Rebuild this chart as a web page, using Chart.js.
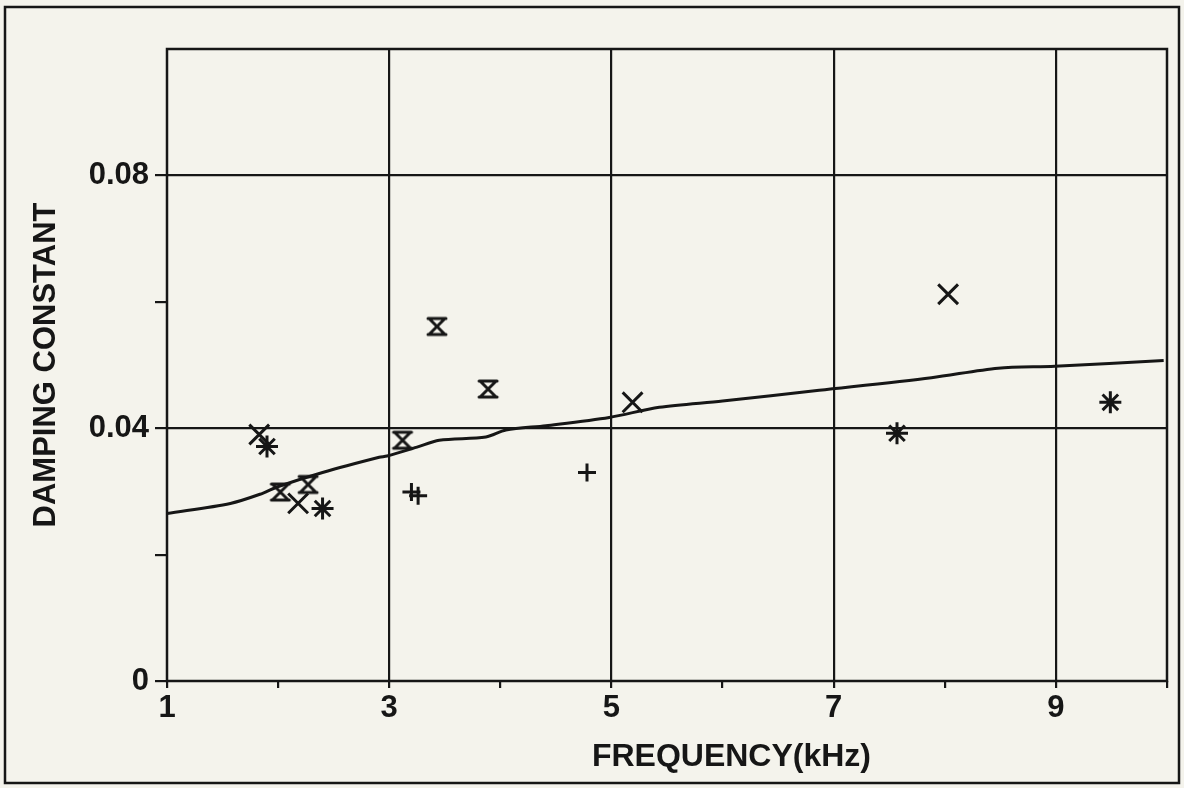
<!DOCTYPE html>
<html>
<head>
<meta charset="utf-8">
<script src="https://cdn.jsdelivr.net/npm/chart.js@4"></script>
<style>
  body { margin: 0; background: #f4f3ec; }
  canvas { display: block; }
</style>
</head>
<body>
<canvas id="damping" width="1184" height="788"></canvas>
<script>
// values
const xTicks = [1, 3, 5, 7, 9];
const yTicks = [0, 0.04, 0.08];
const xTitle = "FREQUENCY(kHz)";
const yTitle = "DAMPING CONSTANT";

const fitX = [1, 1.57, 1.86, 1.99, 2.4, 2.91, 2.98, 3.25, 3.45, 3.87, 4.05, 4.41, 4.98, 5.43, 6, 6.87, 7.88, 8.48, 8.99, 9.97];
const fitY = [0.0265, 0.0281, 0.0297, 0.0307, 0.033, 0.0354, 0.0356, 0.037, 0.0381, 0.0386, 0.0397, 0.0404, 0.0417, 0.0433, 0.0443, 0.046, 0.048, 0.0495, 0.0498, 0.0507];

const crossX = [1.83, 2.18, 5.19, 8.03];
const crossY = [0.039, 0.0281, 0.0441, 0.0612];

const starX = [1.9, 2.4, 7.57, 9.49];
const starY = [0.0371, 0.0273, 0.0392, 0.0441];

const glassX = [2.02, 2.27, 3.12, 3.43, 3.89];
const glassY = [0.0299, 0.0311, 0.0381, 0.0561, 0.0462];

const plusX = [3.2, 3.26, 4.78];
const plusY = [0.0299, 0.0293, 0.033];

const ink = "#161616";
const bg = "#f4f3ec";
const fontFamily = "'Liberation Sans', Arial, sans-serif";

function pts(xs, ys) {
  return xs.map((x, i) => ({ x: x, y: ys[i] }));
}

// hourglass marker: two bars joined by crossing diagonals
function hourglass() {
  const c = document.createElement("canvas");
  c.width = 24;
  c.height = 22;
  const g = c.getContext("2d");
  g.strokeStyle = ink;
  g.lineWidth = 3;
  g.lineCap = "round";
  g.beginPath();
  g.moveTo(3, 3);
  g.lineTo(21, 3);
  g.moveTo(3, 19);
  g.lineTo(21, 19);
  g.moveTo(4, 3);
  g.lineTo(20, 19);
  g.moveTo(20, 3);
  g.lineTo(4, 19);
  g.stroke();
  return c;
}

// outer frame, plot border and the x title (sits right of centre in the original)
const framePlugin = {
  id: "frame",
  beforeDraw(chart) {
    const ctx = chart.ctx;
    ctx.save();
    ctx.fillStyle = bg;
    ctx.fillRect(0, 0, chart.width, chart.height);
    ctx.strokeStyle = ink;
    ctx.lineWidth = 2.5;
    ctx.strokeRect(5, 7, chart.width - 10, chart.height - 12);
    ctx.restore();
  },
  afterDatasetsDraw(chart) {
    const a = chart.chartArea;
    const ctx = chart.ctx;
    ctx.save();
    ctx.strokeStyle = ink;
    ctx.lineWidth = 2.5;
    ctx.strokeRect(a.left, a.top, a.right - a.left, a.bottom - a.top);
    ctx.fillStyle = ink;
    ctx.font = "bold 32px " + fontFamily;
    ctx.textAlign = "center";
    ctx.textBaseline = "middle";
    const xs = chart.scales.x;
    ctx.fillText(xTitle, xs.getPixelForValue(6.08), 757);
    ctx.restore();
  },
};

new Chart(document.getElementById("damping").getContext("2d"), {
  type: "scatter",
  data: {
    datasets: [
      {
        type: "line",
        data: pts(fitX, fitY),
        borderColor: ink,
        borderWidth: 3,
        pointRadius: 0,
        tension: 0.3,
        fill: false,
      },
      {
        data: pts(crossX, crossY),
        pointStyle: "crossRot",
        pointRadius: 14,
        borderColor: ink,
        borderWidth: 3,
      },
      {
        data: pts(starX, starY),
        pointStyle: "star",
        pointRadius: 11,
        borderColor: ink,
        borderWidth: 3,
      },
      {
        data: pts(glassX, glassY),
        pointStyle: hourglass(),
        pointRadius: 10,
      },
      {
        data: pts(plusX, plusY),
        pointStyle: "cross",
        pointRadius: 9,
        borderColor: ink,
        borderWidth: 3,
      },
    ],
  },
  options: {
    responsive: false,
    animation: false,
    devicePixelRatio: 1,
    layout: { padding: { left: 0, top: 49, right: 16, bottom: 0 } },
    plugins: {
      legend: { display: false },
      tooltip: { enabled: false },
    },
    scales: {
      x: {
        type: "linear",
        min: 1,
        max: 10,
        afterFit: (s) => { s.height = 107; },
        afterBuildTicks: (s) => {
          s.ticks = [1, 2, 3, 4, 5, 6, 7, 8, 9, 10].map((v) => ({ value: v }));
        },
        border: { display: false },
        grid: {
          color: (c) => (c.tick && xTicks.includes(c.tick.value) && c.tick.value !== 1 ? ink : "transparent"),
          tickColor: ink,
          lineWidth: 2.2,
          tickLength: 7,
        },
        ticks: {
          color: ink,
          font: { family: fontFamily, weight: "bold", size: 31 },
          padding: 2,
          maxRotation: 0,
          autoSkip: false,
          callback: (v) => (xTicks.includes(v) ? String(v) : ""),
        },
      },
      y: {
        min: 0,
        max: 0.1,
        afterFit: (s) => { s.width = 167; },
        afterBuildTicks: (s) => {
          s.ticks = [0, 0.02, 0.04, 0.06, 0.08, 0.1].map((v) => ({ value: v }));
        },
        border: { display: false },
        grid: {
          color: (c) => (c.tick && (c.tick.value === 0.04 || c.tick.value === 0.08) ? ink : "transparent"),
          tickColor: (c) => (c.tick && c.tick.value === 0.1 ? "transparent" : ink),
          lineWidth: 2.2,
          tickLength: 12,
        },
        ticks: {
          color: ink,
          font: { family: fontFamily, weight: "bold", size: 31 },
          padding: 6,
          autoSkip: false,
          callback: (v) => (yTicks.includes(v) ? String(v) : ""),
        },
        title: {
          display: true,
          text: yTitle,
          color: ink,
          font: { family: fontFamily, weight: "bold", size: 31 },
          padding: { top: 28, bottom: 0 },
        },
      },
    },
  },
  plugins: [framePlugin],
});
</script>
</body>
</html>
